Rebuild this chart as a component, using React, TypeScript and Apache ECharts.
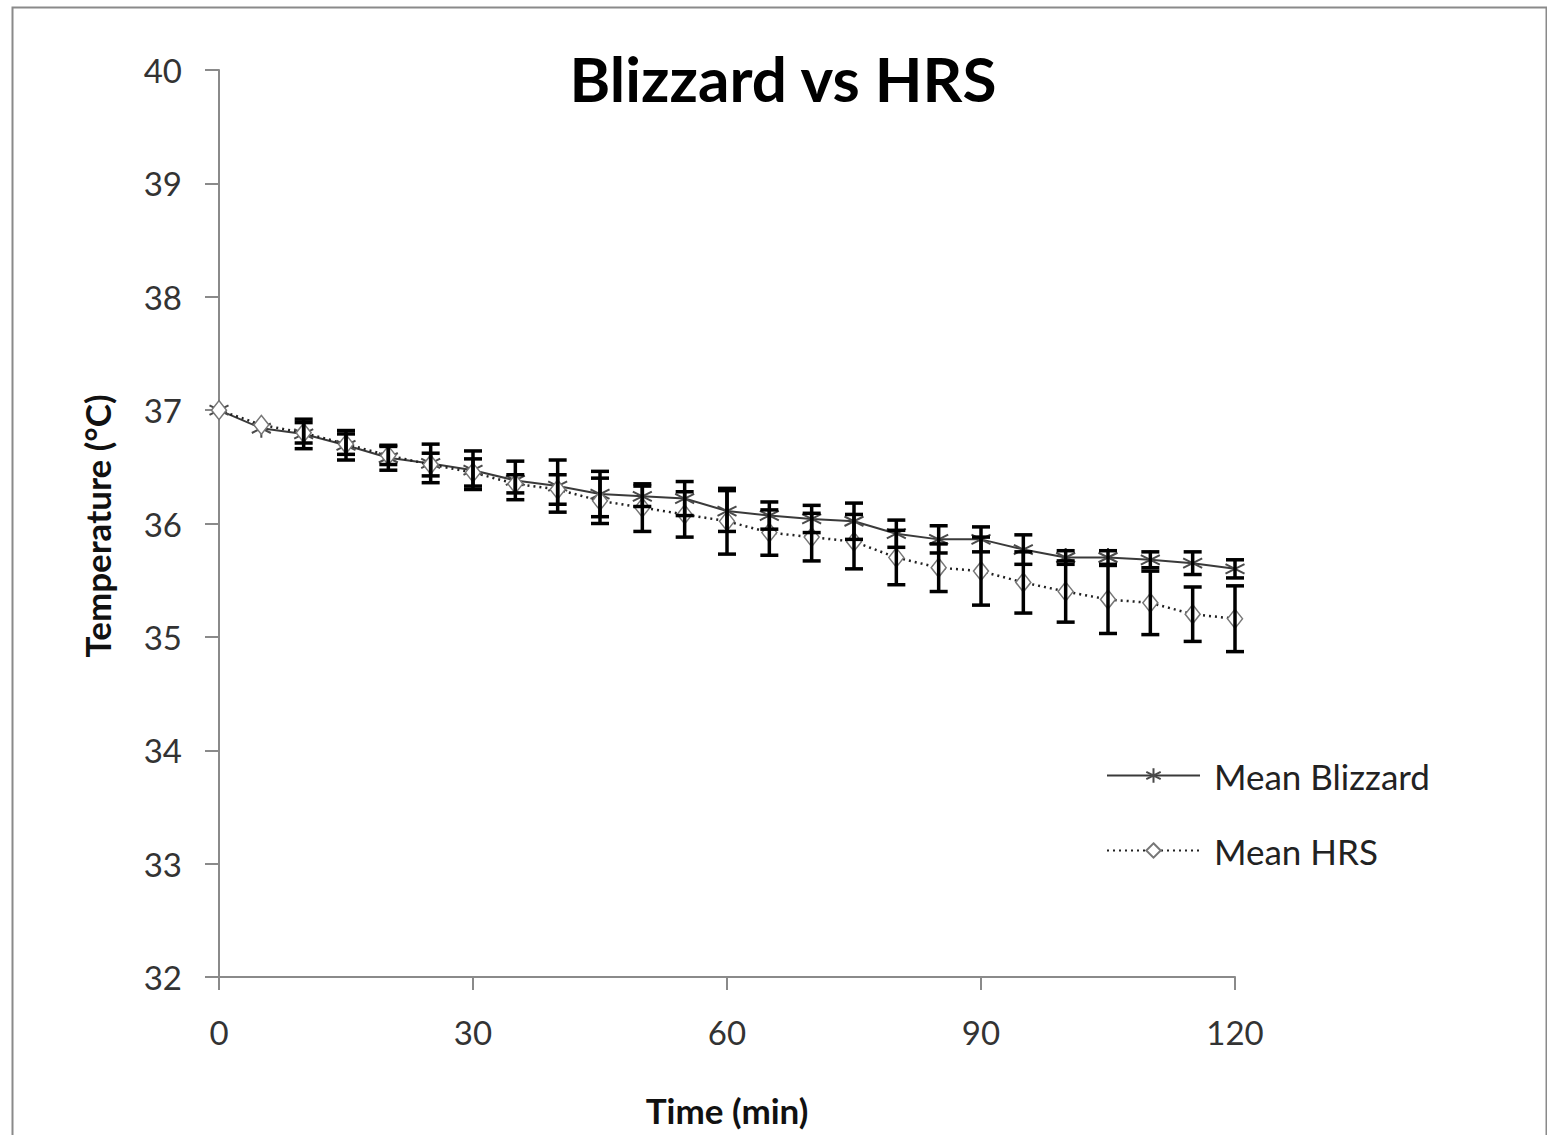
import React, { useEffect, useRef } from "react";
import * as echarts from "echarts";

const minutes = [0, 5, 10, 15, 20, 25, 30, 35, 40, 45, 50, 55, 60, 65, 70, 75, 80, 85, 90, 95, 100, 105, 110, 115, 120];
const blizzardMean = [37.0, 36.84, 36.79, 36.69, 36.58, 36.53, 36.47, 36.38, 36.33, 36.26, 36.24, 36.22, 36.11, 36.07, 36.04, 36.02, 35.91, 35.86, 35.86, 35.77, 35.7, 35.7, 35.68, 35.65, 35.6];
const blizzardSD = [0, 0, 0.13, 0.13, 0.11, 0.17, 0.17, 0.17, 0.23, 0.2, 0.09, 0.15, 0.18, 0.12, 0.12, 0.16, 0.12, 0.12, 0.11, 0.13, 0.06, 0.06, 0.07, 0.1, 0.08];
const hrsMean = [37.0, 36.87, 36.8, 36.7, 36.6, 36.52, 36.45, 36.35, 36.3, 36.2, 36.14, 36.08, 36.02, 35.92, 35.88, 35.84, 35.7, 35.61, 35.58, 35.48, 35.4, 35.33, 35.3, 35.2, 35.16];
const hrsSD = [0, 0, 0.09, 0.09, 0.08, 0.1, 0.12, 0.08, 0.13, 0.2, 0.21, 0.2, 0.29, 0.2, 0.21, 0.24, 0.24, 0.21, 0.3, 0.27, 0.27, 0.3, 0.28, 0.24, 0.29];

const xTicks = { min: 0, max: 120, interval: 30 };
const yTicks = { min: 32, max: 40, interval: 1 };

const FONT = "Lato";

const asteriskPath = "path://M0,-10L0,10M-8.66,-5L8.66,5M-8.66,5L8.66,-5";

function errorData(means: number[], sds: number[]) {
  const out: number[][] = [];
  minutes.forEach((m, i) => {
    if (sds[i] > 0) out.push([m, means[i] - sds[i], means[i] + sds[i]]);
  });
  return out;
}

function renderErrorBar(params: any, api: any) {
  const x = api.value(0);
  const lo = api.coord([x, api.value(1)]);
  const hi = api.coord([x, api.value(2)]);
  const hw = 9;
  const style = { stroke: "#000", lineWidth: 3.5 };
  return {
    type: "group",
    children: [
      { type: "line", shape: { x1: lo[0], y1: lo[1], x2: hi[0], y2: hi[1] }, style },
      { type: "line", shape: { x1: lo[0] - hw, y1: lo[1], x2: lo[0] + hw, y2: lo[1] }, style },
      { type: "line", shape: { x1: hi[0] - hw, y1: hi[1], x2: hi[0] + hw, y2: hi[1] }, style },
    ],
  };
}

export default function App() {
  const ref = useRef<HTMLDivElement>(null);
  useEffect(() => {
    if (!ref.current) return;
    const chart = echarts.init(ref.current, null, { renderer: "svg" });
    chart.setOption({
      animation: false,
      backgroundColor: "#fff",
      grid: { left: 219, right: 312, top: 70, bottom: 158, containLabel: false },
      xAxis: {
        type: "value",
        min: xTicks.min,
        max: xTicks.max,
        interval: xTicks.interval,
        splitLine: { show: false },
        axisLine: { show: true, lineStyle: { color: "#8a8a8a", width: 2 } },
        axisTick: { show: true, inside: false, length: 13, lineStyle: { color: "#8a8a8a", width: 2 } },
        axisLabel: { margin: 38, fontSize: 33, color: "#333", fontFamily: FONT },
      },
      yAxis: {
        type: "value",
        min: yTicks.min,
        max: yTicks.max,
        interval: yTicks.interval,
        splitLine: { show: false },
        axisLine: { show: true, lineStyle: { color: "#8a8a8a", width: 2 } },
        axisTick: { show: true, inside: false, length: 14, lineStyle: { color: "#8a8a8a", width: 2 } },
        axisLabel: { margin: 37, fontSize: 33, color: "#333", fontFamily: FONT },
      },
      legend: {
        orient: "vertical",
        left: 1101,
        top: 753,
        itemWidth: 93,
        itemHeight: 18,
        itemGap: 40,
        data: ["Mean Blizzard", "Mean HRS"],
        textStyle: { fontSize: 35, color: "#222", fontFamily: FONT, lineHeight: 35, padding: [0, 0, 0, 9] },
      },
      graphic: [
        {
          type: "rect",
          left: 10,
          top: 5,
          shape: { width: 1534, height: 1145 },
          style: { fill: "none", stroke: "#8a8a8a", lineWidth: 2 },
          silent: true,
        },
        {
          type: "text",
          x: 783,
          y: 78,
          style: {
            text: "Blizzard vs HRS",
            fontSize: 62,
            fontWeight: "bold",
            fontFamily: FONT,
            fill: "#000",
            align: "center",
            verticalAlign: "middle",
          },
        },
        {
          type: "text",
          x: 727,
          y: 1110,
          style: {
            text: "Time (min)",
            fontSize: 35,
            fontWeight: "bold",
            fontFamily: FONT,
            fill: "#111",
            align: "center",
            verticalAlign: "middle",
          },
        },
        {
          type: "text",
          x: 97,
          y: 526,
          rotation: Math.PI / 2,
          style: {
            text: "Temperature (°C)",
            fontSize: 35,
            fontWeight: "bold",
            fontFamily: FONT,
            fill: "#111",
            align: "center",
            verticalAlign: "middle",
          },
        },
      ],
      series: [
        {
          name: "Mean Blizzard",
          type: "line",
          z: 2,
          data: minutes.map((m, i) => [m, blizzardMean[i]]),
          symbol: asteriskPath,
          symbolSize: 19,
          lineStyle: { color: "#3a3a3a", width: 2, type: "solid" },
          itemStyle: { color: "#4a4a4a", borderColor: "#4a4a4a", borderWidth: 2 },
        },
        {
          name: "Mean HRS",
          type: "line",
          z: 2,
          data: minutes.map((m, i) => [m, hrsMean[i]]),
          symbol: "diamond",
          symbolSize: [15, 19],
          lineStyle: { color: "#222", width: 2.5, type: [2, 4] },
          itemStyle: { color: "#fff", borderColor: "#777", borderWidth: 1.5 },
        },
        {
          type: "custom",
          z: 3,
          renderItem: renderErrorBar,
          encode: { x: 0, y: [1, 2] },
          data: errorData(blizzardMean, blizzardSD),
        },
        {
          type: "custom",
          z: 3,
          renderItem: renderErrorBar,
          encode: { x: 0, y: [1, 2] },
          data: errorData(hrsMean, hrsSD),
        },
      ],
    });
    return () => chart.dispose();
  }, []);
  return (
    <div
      ref={ref}
      style={{ position: "absolute", left: 0, top: 0, width: 1547, height: 1135 }}
    />
  );
}
